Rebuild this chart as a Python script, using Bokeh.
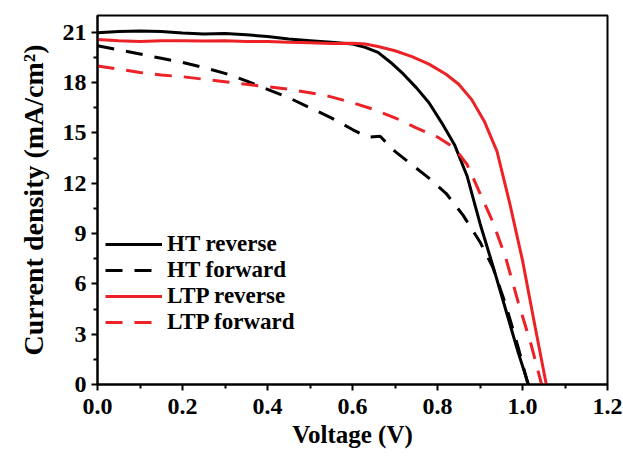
from bokeh.plotting import figure
from bokeh.models import FixedTicker, NumeralTickFormatter, Legend, LegendItem, Range1d
from bokeh.embed import file_html
from bokeh.resources import INLINE

# ---- data ----
ht_rev_v = [0, 0.05, 0.1, 0.15, 0.2, 0.25, 0.3, 0.35, 0.4, 0.45, 0.5, 0.55, 0.6, 0.63, 0.66,
            0.69, 0.72, 0.75, 0.78, 0.81, 0.84, 0.87, 0.9, 0.93, 0.96, 0.99, 1.014]
ht_rev_j = [20.97, 21.05, 21.07, 21.04, 20.95, 20.9, 20.92, 20.85, 20.75, 20.6, 20.5, 20.4, 20.3, 20.1, 19.8,
            19.2, 18.5, 17.7, 16.8, 15.6, 14.3, 12.4, 9.6, 7.1, 4.5, 1.9, 0]

ht_fwd_v = [0, 0.05, 0.1, 0.15, 0.2, 0.25, 0.3, 0.35, 0.4, 0.45, 0.5, 0.55, 0.6, 0.635, 0.665,
            0.7, 0.74, 0.78, 0.82, 0.86, 0.9, 0.93, 0.96, 0.99, 1.013]
ht_fwd_j = [20.2, 19.95, 19.7, 19.45, 19.2, 18.9, 18.55, 18.1, 17.6, 17.1, 16.5, 15.9, 15.2, 14.75, 14.8,
            13.9, 13.1, 12.3, 11.4, 10.1, 8.5, 7.0, 4.8, 2.2, 0]

ltp_rev_v = [0, 0.05, 0.1, 0.15, 0.2, 0.25, 0.3, 0.35, 0.4, 0.45, 0.5, 0.55, 0.6, 0.63, 0.66,
             0.7, 0.74, 0.78, 0.82, 0.85, 0.88, 0.91, 0.94, 0.97, 1.0, 1.03, 1.056]
ltp_rev_j = [20.57, 20.5, 20.45, 20.5, 20.5, 20.48, 20.5, 20.45, 20.45, 20.4, 20.38, 20.33, 20.35, 20.3, 20.15,
             19.9, 19.55, 19.1, 18.5, 17.9, 17.0, 15.7, 13.9, 10.8, 7.4, 3.4, 0]

ltp_fwd_v = [0, 0.05, 0.1, 0.15, 0.2, 0.25, 0.3, 0.35, 0.4, 0.45, 0.5, 0.55, 0.6, 0.65, 0.7,
             0.75, 0.8, 0.84, 0.87, 0.9, 0.93, 0.96, 0.99, 1.02, 1.045]
ltp_fwd_j = [18.99, 18.8, 18.6, 18.45, 18.35, 18.2, 18.05, 17.9, 17.75, 17.6, 17.4, 17.15, 16.8, 16.4, 15.9,
             15.3, 14.75, 14.1, 13.1, 11.4, 9.7, 7.6, 4.9, 2.4, 0]

series_labels = ["HT reverse", "HT forward", "LTP reverse", "LTP forward"]
x_ticks = [0.0, 0.2, 0.4, 0.6, 0.8, 1.0, 1.2]
x_minor = [0.1, 0.3, 0.5, 0.7, 0.9, 1.1]
y_ticks = [0, 3, 6, 9, 12, 15, 18, 21]
y_minor = [1.5, 4.5, 7.5, 10.5, 13.5, 16.5, 19.5]

RED = "#ec2227"
FONT = "Liberation Serif"

p = figure(width=623, height=457, output_backend="svg", toolbar_location=None,
           x_range=Range1d(0, 1.2), y_range=Range1d(0, 22),
           min_border_left=97, min_border_right=16, min_border_top=15, min_border_bottom=73)
p.grid.visible = False
p.background_fill_color = "white"
p.border_fill_color = "white"
p.outline_line_color = "black"
p.outline_line_width = 2

r1 = p.line(ht_rev_v, ht_rev_j, line_color="black", line_width=3)
r2 = p.line(ht_fwd_v, ht_fwd_j, line_color="black", line_width=3, line_dash="17 12")
r3 = p.line(ltp_rev_v, ltp_rev_j, line_color=RED, line_width=3)
r4 = p.line(ltp_fwd_v, ltp_fwd_j, line_color=RED, line_width=3, line_dash="17 12")

for ax in (p.xaxis[0], p.yaxis[0]):
    ax.axis_line_width = 2
    ax.major_tick_line_width = 2
    ax.minor_tick_line_width = 2
    ax.major_tick_out = 6
    ax.major_tick_in = 0
    ax.minor_tick_out = 4
    ax.minor_tick_in = 0
    ax.major_label_text_font = FONT
    ax.major_label_text_font_style = "bold"
    ax.major_label_text_font_size = "24px"
    ax.major_label_text_color = "black"
    ax.axis_label_text_font = FONT
    ax.axis_label_text_font_style = "bold"
    ax.axis_label_text_color = "black"

p.xaxis[0].ticker = FixedTicker(ticks=x_ticks, minor_ticks=x_minor)
p.xaxis[0].formatter = NumeralTickFormatter(format="0.0")
p.xaxis[0].axis_label = "Voltage (V)"
p.xaxis[0].axis_label_text_font_size = "25px"
p.xaxis[0].major_label_standoff = 8
p.xaxis[0].axis_label_standoff = 4

p.yaxis[0].ticker = FixedTicker(ticks=y_ticks, minor_ticks=y_minor)
p.yaxis[0].axis_label = "Current density (mA/cm\u00b2)"
p.yaxis[0].axis_label_text_font_size = "28px"
p.yaxis[0].major_label_standoff = 5
p.yaxis[0].axis_label_standoff = 11

legend = Legend(items=[LegendItem(label=series_labels[0], renderers=[r1]),
                       LegendItem(label=series_labels[1], renderers=[r2]),
                       LegendItem(label=series_labels[2], renderers=[r3]),
                       LegendItem(label=series_labels[3], renderers=[r4])],
                location=(0, 41))
legend.label_text_font = FONT
legend.label_text_font_style = "bold"
legend.label_text_font_size = "23px"
legend.label_text_color = "black"
legend.glyph_width = 57
legend.glyph_height = 20
legend.label_height = 20
legend.label_standoff = 5
legend.spacing = -6
legend.padding = 8
legend.margin = 0
legend.border_line_alpha = 0
legend.background_fill_alpha = 0
p.add_layout(legend)

open("out.html", "w").write(file_html(p, INLINE))
